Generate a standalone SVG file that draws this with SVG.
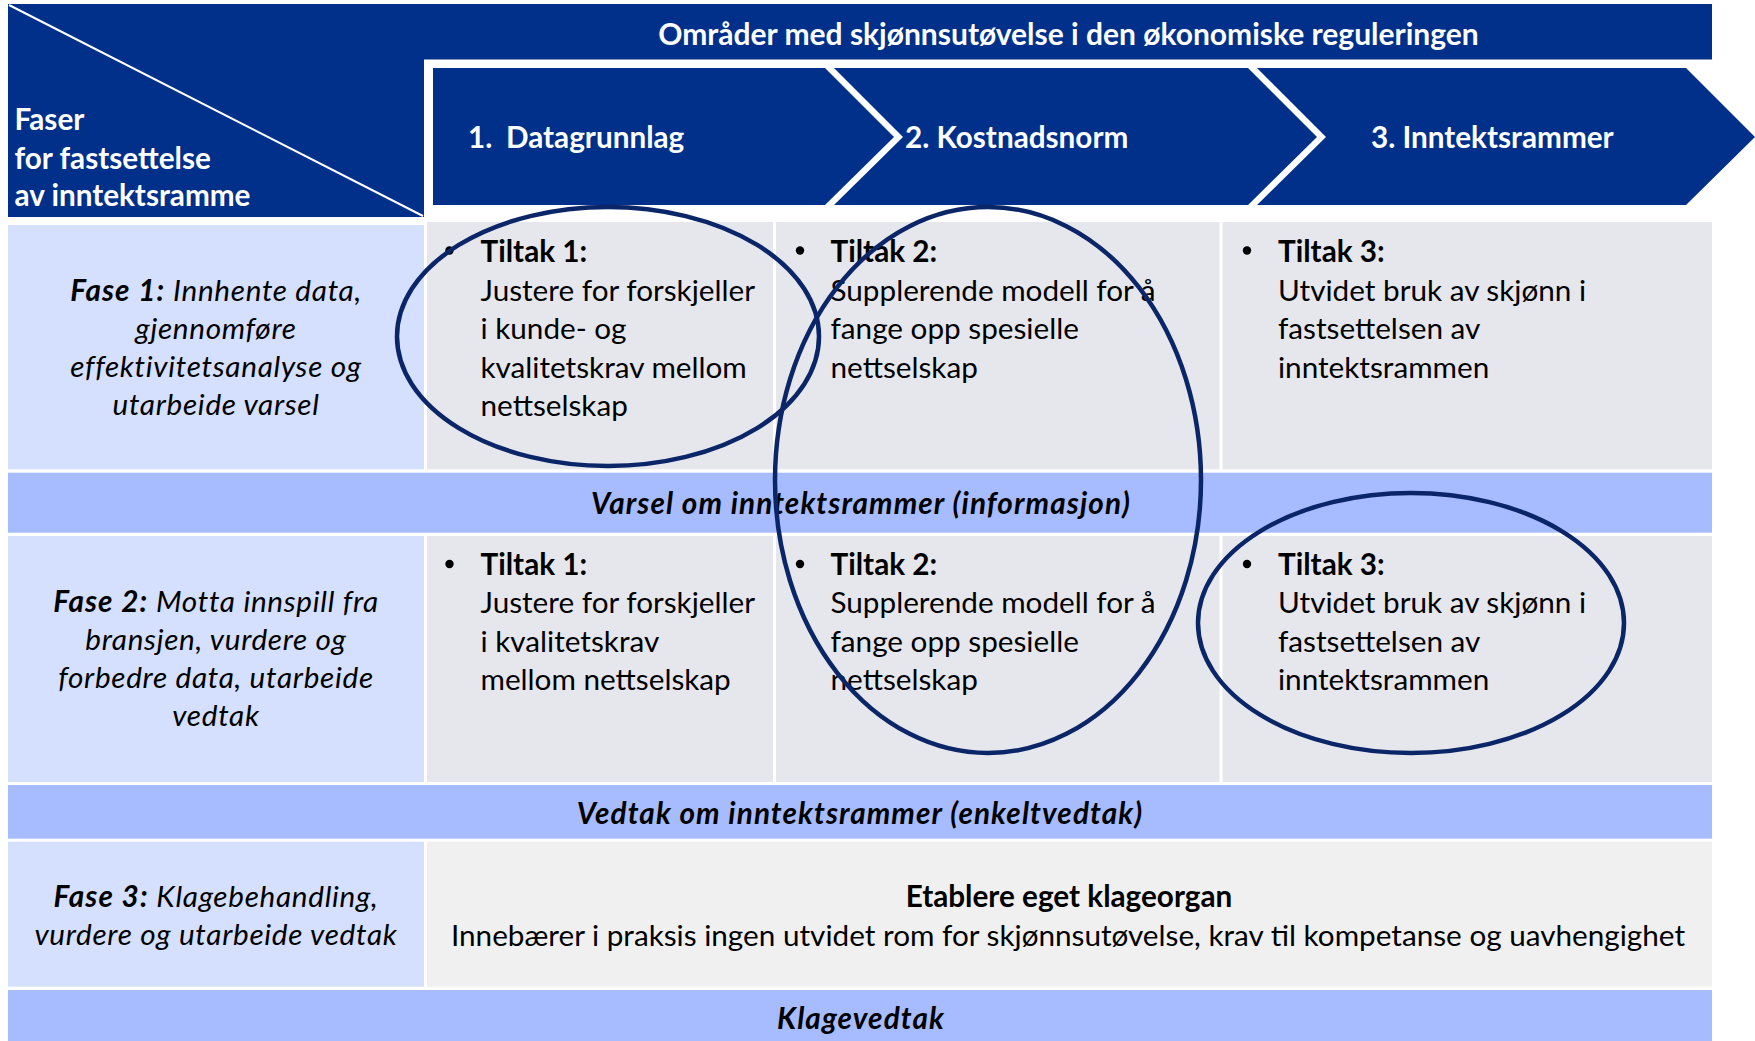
<svg xmlns="http://www.w3.org/2000/svg" width="1755" height="1041" viewBox="0 0 1755 1041">
<style>
.navy{fill:#00308A}
.fase{fill:#D5DFFE}
.grey{fill:#E6E7EC}
.band{fill:#A7BCFE}
.grey3{fill:#F0F0F0}
text{font-family:Lato,"Liberation Sans",sans-serif;font-size:29.7px;fill:#000}
.w{fill:#fff;font-weight:bold}
.h{font-size:30px}
.b{font-weight:bold}
.i{font-style:italic;letter-spacing:0.7px}
.bi{font-weight:bold;font-style:italic;letter-spacing:1.1px}
.c{text-anchor:middle}
.ring{fill:none;stroke:#0B2668;stroke-width:4.5}
.dot{fill:#000}
</style>
<rect width="1755" height="1041" fill="#fff"/>

<g id="header">
<rect class="navy" x="8" y="4" width="1704" height="55.5"/>
<text class="w c h" x="1068.5" y="45">Områder med skjønnsutøvelse i den økonomiske reguleringen</text>
</g>

<g id="corner">
<rect class="navy" x="8" y="4" width="416" height="213"/>
<line x1="9" y1="5" x2="423" y2="216" stroke="#fff" stroke-width="2"/>
<text class="w" x="14.5" y="129.5">Faser</text>
<text class="w" x="14.5" y="168.5">for fastsettelse</text>
<text class="w" x="14.5" y="206">av inntektsramme</text>
</g>

<g id="chevron1">
<polygon class="navy" points="433,68 825,68 894,137 825,205 433,205"/>
<text class="w" x="468" y="148">1.</text>
<text class="w" x="506" y="148">Datagrunnlag</text>
</g>
<g id="chevron2">
<polygon class="navy" points="834,68 1248,68 1317,137 1248,205 834,205 903,137"/>
<text class="w" x="905" y="148">2. Kostnadsnorm</text>
</g>
<g id="chevron3">
<polygon class="navy" points="1257,68 1686,68 1755,137 1686,205 1257,205 1326,137"/>
<text class="w" x="1371" y="148">3. Inntektsrammer</text>
</g>

<g id="fase1">
<rect class="fase" x="8" y="225" width="416" height="244.3"/>
<text class="i c" x="216" y="300.5"><tspan class="bi">Fase 1:</tspan> Innhente data,</text>
<text class="i c" x="216" y="338.5">gjennomføre</text>
<text class="i c" x="216" y="376.5">effektivitetsanalyse og</text>
<text class="i c" x="216" y="415">utarbeide varsel</text>
</g>

<g id="r1-tiltak1">
<rect class="grey" x="427" y="222" width="346" height="247.3"/>
<circle class="dot" cx="449.5" cy="250.5" r="4.2"/>
<text class="b" x="480.5" y="261.5">Tiltak 1:</text>
<text x="480.5" y="300.5">Justere for forskjeller</text>
<text x="480.5" y="339">i kunde- og</text>
<text x="480.5" y="377.5">kvalitetskrav mellom</text>
<text x="480.5" y="415.5">nettselskap</text>
</g>

<g id="r1-tiltak2">
<rect class="grey" x="776" y="222" width="443.5" height="247.3"/>
<circle class="dot" cx="800" cy="250.5" r="4.2"/>
<text class="b" x="830.5" y="261.5">Tiltak 2:</text>
<text x="830.5" y="300.5">Supplerende modell for å</text>
<text x="830.5" y="339">fange opp spesielle</text>
<text x="830.5" y="377.5">nettselskap</text>
</g>

<g id="r1-tiltak3">
<rect class="grey" x="1222.5" y="222" width="489.5" height="247.3"/>
<circle class="dot" cx="1247" cy="250.5" r="4.2"/>
<text class="b" x="1278" y="261.5">Tiltak 3:</text>
<text x="1278" y="300.5">Utvidet bruk av skjønn i</text>
<text x="1278" y="339">fastsettelsen av</text>
<text x="1278" y="377.5">inntektsrammen</text>
</g>

<g id="band-varsel">
<rect class="band" x="8" y="472.7" width="1704" height="60"/>
<text class="bi c" x="861" y="513.5">Varsel om inntektsrammer (informasjon)</text>
</g>

<g id="fase2">
<rect class="fase" x="8" y="536" width="416" height="246"/>
<text class="i c" x="216" y="612.2"><tspan class="bi">Fase 2:</tspan> Motta innspill fra</text>
<text class="i c" x="216" y="650">bransjen, vurdere og</text>
<text class="i c" x="216" y="688.2">forbedre data, utarbeide</text>
<text class="i c" x="216" y="726">vedtak</text>
</g>

<g id="r2-tiltak1">
<rect class="grey" x="427" y="536" width="346" height="246"/>
<circle class="dot" cx="449.5" cy="564" r="4.2"/>
<text class="b" x="480.5" y="574.8">Tiltak 1:</text>
<text x="480.5" y="613.2">Justere for forskjeller</text>
<text x="480.5" y="651.5">i kvalitetskrav</text>
<text x="480.5" y="689.8">mellom nettselskap</text>
</g>

<g id="r2-tiltak2">
<rect class="grey" x="776" y="536" width="443.5" height="246"/>
<circle class="dot" cx="800" cy="564" r="4.2"/>
<text class="b" x="830.5" y="574.8">Tiltak 2:</text>
<text x="830.5" y="613.2">Supplerende modell for å</text>
<text x="830.5" y="651.5">fange opp spesielle</text>
<text x="830.5" y="689.8">nettselskap</text>
</g>

<g id="r2-tiltak3">
<rect class="grey" x="1222.5" y="536" width="489.5" height="246"/>
<circle class="dot" cx="1247" cy="564" r="4.2"/>
<text class="b" x="1278" y="574.8">Tiltak 3:</text>
<text x="1278" y="613.2">Utvidet bruk av skjønn i</text>
<text x="1278" y="651.5">fastsettelsen av</text>
<text x="1278" y="689.8">inntektsrammen</text>
</g>

<g id="band-vedtak">
<rect class="band" x="8" y="785" width="1704" height="53.7"/>
<text class="bi c" x="860" y="823.5">Vedtak om inntektsrammer (enkeltvedtak)</text>
</g>

<g id="fase3">
<rect class="fase" x="8" y="841.7" width="416" height="145"/>
<text class="i c" x="216" y="906.5"><tspan class="bi">Fase 3:</tspan> Klagebehandling,</text>
<text class="i c" x="216" y="945">vurdere og utarbeide vedtak</text>
</g>

<g id="klageorgan">
<rect class="grey3" x="427" y="841.7" width="1285" height="145"/>
<text class="b c" x="1069" y="906.5">Etablere eget klageorgan</text>
<text class="c" x="1068" y="946">Innebærer i praksis ingen utvidet rom for skjønnsutøvelse, krav til kompetanse og uavhengighet</text>
</g>

<g id="band-klagevedtak">
<rect class="band" x="8" y="990" width="1704" height="51"/>
<text class="bi c" x="861" y="1028.5">Klagevedtak</text>
</g>

<g id="connectors">
<ellipse class="ring" cx="608" cy="336.5" rx="211" ry="129.5"/>
<ellipse class="ring" cx="988" cy="480" rx="213" ry="273"/>
<ellipse class="ring" cx="1411" cy="623" rx="213" ry="130"/>
</g>
</svg>
